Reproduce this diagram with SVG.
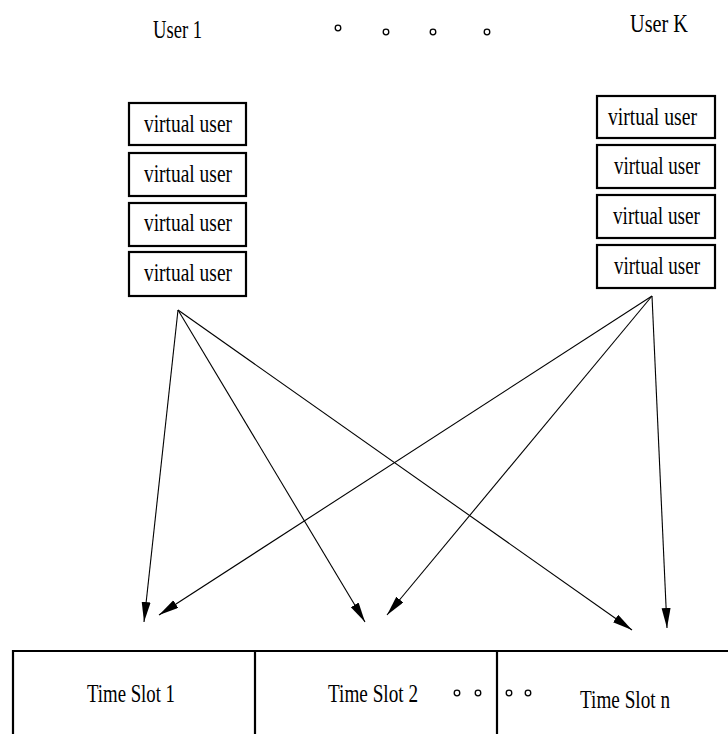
<svg xmlns="http://www.w3.org/2000/svg" width="728" height="734" viewBox="0 0 728 734">
<style>
text{font-family:"Liberation Serif","Times New Roman",serif;fill:#000}
.lbl{font-size:25px}
.box{fill:#fff;stroke:#000;stroke-width:2.2}
.con{stroke:#000;stroke-width:1.1;fill:none;marker-end:url(#ah)}
.dot{fill:none;stroke:#000;stroke-width:1.3}
.tbl{stroke:#000;stroke-width:2.2;fill:none}
</style>
<defs>
<marker id="ah" markerUnits="userSpaceOnUse" markerWidth="22" markerHeight="10" refX="20" refY="4.5" orient="auto">
<path d="M0,0 L20,4.5 L0,9 z" fill="#000"/>
</marker>
</defs>
<rect width="728" height="734" fill="#fff"/>

<g id="user1">
<text class="lbl" x="153" y="38" textLength="49" lengthAdjust="spacingAndGlyphs">User 1</text>
</g>
<g id="userK">
<text class="lbl" x="630" y="32" textLength="58" lengthAdjust="spacingAndGlyphs">User K</text>
</g>
<g id="top-dots">
<circle class="dot" cx="338" cy="28" r="2.8"/>
<circle class="dot" cx="386" cy="32" r="2.8"/>
<circle class="dot" cx="433" cy="32" r="2.8"/>
<circle class="dot" cx="487" cy="32" r="2.8"/>
</g>

<g id="u1-vu1"><rect class="box" x="129" y="103" width="117" height="42"/><text class="lbl" x="144" y="132" textLength="88" lengthAdjust="spacingAndGlyphs">virtual user</text></g>
<g id="u1-vu2"><rect class="box" x="129" y="153" width="117" height="43"/><text class="lbl" x="144" y="182" textLength="88" lengthAdjust="spacingAndGlyphs">virtual user</text></g>
<g id="u1-vu3"><rect class="box" x="129" y="203" width="117" height="43"/><text class="lbl" x="144" y="231" textLength="88" lengthAdjust="spacingAndGlyphs">virtual user</text></g>
<g id="u1-vu4"><rect class="box" x="129" y="252" width="117" height="44"/><text class="lbl" x="144" y="281" textLength="88" lengthAdjust="spacingAndGlyphs">virtual user</text></g>

<g id="uK-vu1"><rect class="box" x="597" y="96" width="118" height="42"/><text class="lbl" x="608" y="125" textLength="89" lengthAdjust="spacingAndGlyphs">virtual user</text></g>
<g id="uK-vu2"><rect class="box" x="597" y="145" width="118" height="43"/><text class="lbl" x="614" y="174" textLength="86" lengthAdjust="spacingAndGlyphs">virtual user</text></g>
<g id="uK-vu3"><rect class="box" x="597" y="195" width="118" height="43"/><text class="lbl" x="613" y="224" textLength="87" lengthAdjust="spacingAndGlyphs">virtual user</text></g>
<g id="uK-vu4"><rect class="box" x="597" y="245" width="118" height="43"/><text class="lbl" x="614" y="274" textLength="86" lengthAdjust="spacingAndGlyphs">virtual user</text></g>

<g id="connectors">
<line class="con" x1="178" y1="310" x2="144" y2="622"/>
<line class="con" x1="178" y1="310" x2="365" y2="622"/>
<line class="con" x1="178" y1="310" x2="632" y2="630"/>
<line class="con" x1="652" y1="296" x2="159" y2="615"/>
<line class="con" x1="652" y1="296" x2="387" y2="615"/>
<line class="con" x1="652" y1="296" x2="667" y2="628"/>
</g>

<g id="timeslots">
<path class="tbl" d="M13,736 V651 H730 M255,651 V736 M497,651 V736"/>
</g>
<g id="slot1"><text class="lbl" x="87" y="702" textLength="88" lengthAdjust="spacingAndGlyphs">Time Slot 1</text></g>
<g id="slot2"><text class="lbl" x="328" y="702" textLength="90" lengthAdjust="spacingAndGlyphs">Time Slot 2</text>
<circle class="dot" cx="457" cy="693" r="2.8"/><circle class="dot" cx="478" cy="693" r="2.8"/></g>
<g id="slotn"><circle class="dot" cx="509" cy="693" r="2.8"/><circle class="dot" cx="528" cy="693" r="2.8"/>
<text class="lbl" x="580" y="708" textLength="90" lengthAdjust="spacingAndGlyphs">Time Slot n</text></g>
</svg>
